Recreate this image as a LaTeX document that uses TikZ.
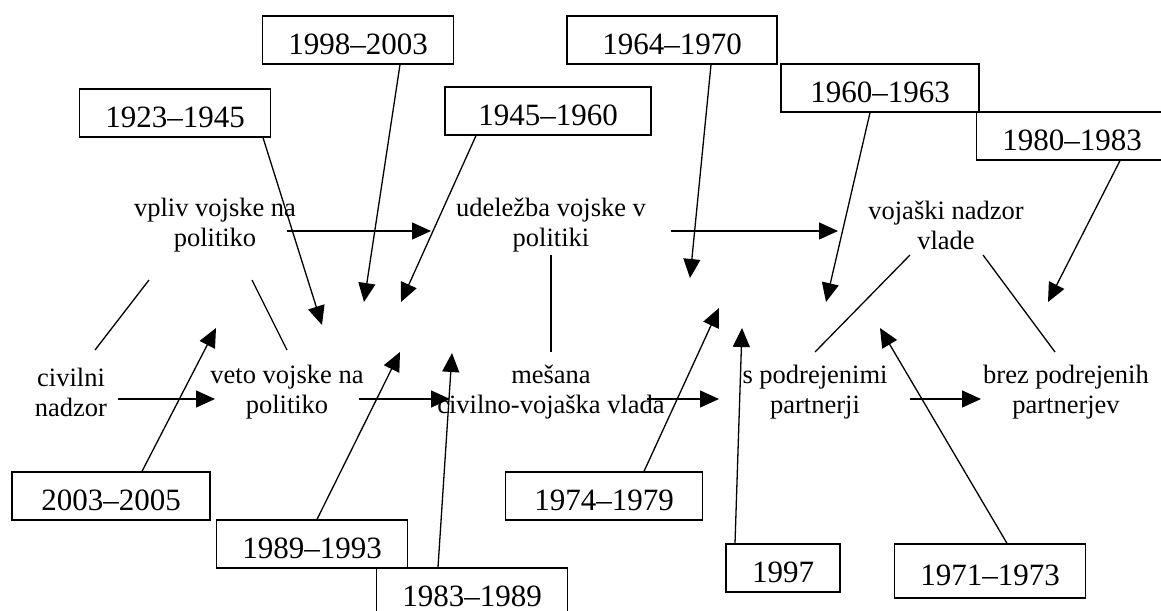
\documentclass[tikz,border=0pt]{standalone}
\usepackage{fontspec}
\setmainfont{Liberation Serif}
\usepackage{tikz}
\usetikzlibrary{arrows.meta}

\begin{document}
\begin{tikzpicture}[x=1pt,y=1pt,
                    line width=1.3pt,
                    lbl/.style={align=center,inner sep=0pt,font=\fontsize{26.5}{30}\selectfont},
                    yearbox/.style={draw,inner xsep=26pt,inner ysep=0pt,minimum height=48pt,
                                    text height=28.5pt,text depth=0pt,
                                    font=\fontsize{31}{36}\selectfont},
                    arr/.style={-{Triangle[length=19pt,width=17pt]}}]
    \useasboundingbox (0,0) rectangle (1161,-610);

    % types of civil-military relations
    \node[lbl] (vpliv) at (215,-225) {vpliv vojske na\\politiko};
    \node[lbl] (udelezba) at (551,-225) {udeležba vojske v\\politiki};
    \node[lbl] (vojaski) at (946,-225) {vojaški nadzor\\vlade};
    \node[lbl] (civilni) at (71,-392) {civilni\\nadzor};
    \node[lbl] (veto) at (287,-392) {veto vojske na\\politiko};
    \node[lbl] (mesana) at (551,-392) {mešana\\civilno-vojaška vlada};
    \node[lbl] (spodr) at (815,-392) {s podrejenimi\\partnerji};
    \node[lbl] (brez) at (1066,-392) {brez podrejenih\\partnerjev};

    % periods
    \node[yearbox] (b98) at (358,-40) {1998–2003};
    \node[yearbox] (b23) at (175,-113) {1923–1945};
    \node[yearbox,minimum width=206pt] (b45) at (548,-111) {1945–1960};
    \node[yearbox,minimum width=210pt] (b64) at (672,-40) {1964–1970};
    \node[yearbox,minimum width=198pt] (b60) at (880,-88) {1960–1963};
    \node[yearbox] (b80) at (1072,-136) {1980–1983};
    \node[yearbox,minimum width=198pt] (b03) at (111,-496) {2003–2005};
    \node[yearbox] (b89) at (312,-544) {1989–1993};
    \node[yearbox] (b83) at (472,-592) {1983–1989};
    \node[yearbox,minimum width=197pt] (b74) at (604,-496) {1974–1979};
    \node[yearbox] (b97) at (783,-568) {1997};
    \node[yearbox,minimum width=185pt,minimum height=54pt] (b71) at (990,-571) {1971–1973};

    \coordinate (t98) at (364,-302);
    \coordinate (t23) at (322,-325);
    \coordinate (t45) at (401,-302);
    \coordinate (t64) at (690,-278);
    \coordinate (t60) at (826,-302);
    \coordinate (t80) at (1048,-302);
    \coordinate (t03) at (216,-328);
    \coordinate (t89) at (400,-352);
    \coordinate (t83) at (452,-353);
    \coordinate (t74) at (719,-308);
    \coordinate (t97) at (742,-328);
    \coordinate (t71) at (880,-328);

    % links between types
    \draw ([shift={(-66,-55)}]vpliv.center) -- ([shift={(24,42)}]civilni.center);
    \draw ([shift={(37,-55)}]vpliv.center) -- ([shift={(0,42)}]veto.center);
    \draw ([shift={(0,-30)}]udelezba.center) -- ([shift={(0,40)}]mesana.center);
    \draw ([shift={(-36,-30)}]vojaski.center) -- ([shift={(0,40)}]spodr.center);
    \draw ([shift={(37,-30)}]vojaski.center) -- ([shift={(-11,40)}]brez.center);

    \draw[arr] ([shift={(72,-6)}]vpliv.center) -- ([shift={(-120,-6)}]udelezba.center);
    \draw[arr] ([shift={(120,-6)}]udelezba.center) -- ([shift={(-108,-6)}]vojaski.center);
    \draw[arr] ([shift={(47,-7)}]civilni.center) -- ([shift={(-72,-7)}]veto.center);
    \draw[arr] ([shift={(72,-7)}]veto.center) -- ([shift={(-101,-7)}]mesana.center);
    \draw[arr] ([shift={(96,-7)}]mesana.center) -- ([shift={(-96,-7)}]spodr.center);
    \draw[arr] ([shift={(95,-7)}]spodr.center) -- ([shift={(-85,-7)}]brez.center);

    % periods to types
    \draw[arr] ([xshift=42pt]b98.south) -- (t98);
    \draw[arr] ([xshift=88pt]b23.south) -- (t23);
    \draw[arr] ([xshift=-72pt]b45.south) -- (t45);
    \draw[arr] ([xshift=39pt]b64.south) -- (t64);
    \draw[arr] ([xshift=-10pt]b60.south) -- (t60);
    \draw[arr] ([xshift=48pt]b80.south) -- (t80);
    \draw[arr] ([xshift=31pt]b03.north) -- (t03);
    \draw[arr] ([xshift=5pt]b89.north) -- (t89);
    \draw[arr] ([xshift=-34pt]b83.north) -- (t83);
    \draw[arr] ([xshift=40pt]b74.north) -- (t74);
    \draw[arr] ([xshift=-48pt]b97.north) -- (t97);
    \draw[arr] ([xshift=17pt]b71.north) -- (t71);
\end{tikzpicture}
\end{document}
